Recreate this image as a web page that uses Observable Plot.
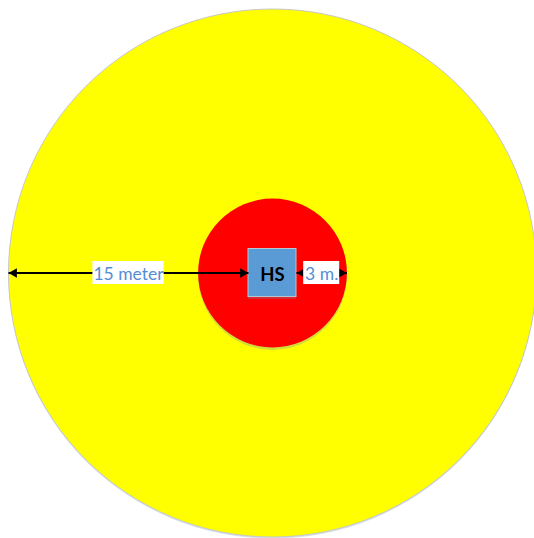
<!DOCTYPE html>
<html>
<head>
<meta charset="utf-8">
<script src="https://cdn.jsdelivr.net/npm/d3@7"></script>
<script src="https://cdn.jsdelivr.net/npm/@observablehq/plot@0.6"></script>
<style>
  html, body { margin: 0; padding: 0; background: #fff; }
  #chart svg { display: block; }
</style>
</head>
<body>
<div id="chart"></div>
<script>
// ---- data (meters) ----
const zoneNames = ["outer zone", "inner zone"];
const zoneRadii = [16.5, 4.65];         // radius from HS centre, meters (as drawn)
const zoneColors = ["#ffff00", "#ff0000"];
const hsLabel = "HS";
const hsHalfSide = 1.5;                 // half side of HS square, meters
const distanceLabels = ["15 meter", "3 m."];
const distanceZones = [0, 1];           // which zone edge each dimension reaches
const distanceSides = ["left", "right"];

// derived tables
const zones = zoneNames.map((name, i) => ({name, r: zoneRadii[i], color: zoneColors[i]}));
const dims = distanceLabels.map((label, i) => {
  const left = distanceSides[i] === "left";
  const edge = zoneRadii[distanceZones[i]];
  const a = left ? -edge : hsHalfSide;
  const b = left ? -hsHalfSide : edge;
  return {label, a, b, mid: (a + b) / 2, boxW: left ? 4.45 : 2.25};
});
const heads = dims.flatMap(d => [{x: d.a, dir: -1}, {x: d.b, dir: 1}]);
const hs = [{label: hsLabel, x1: -hsHalfSide, x2: hsHalfSide, y1: -hsHalfSide, y2: hsHalfSide}];

const W = 534, H = 538, PX = 16; // px per meter
const cx = 272, cy = 272.5;
const blue = "#558ed5";
const font = "Lato, 'Open Sans', sans-serif";

const plot = Plot.plot({
  width: W, height: H,
  margin: 0,
  x: {domain: [-cx / PX, (W - cx) / PX], axis: null},
  y: {domain: [-(H - cy) / PX, cy / PX], axis: null},
  r: {type: "linear", domain: [0, 1], range: [0, PX]},
  style: {background: "#fff"},
  marks: [
    // outer zone: soft shadow, fill with grey outline
    Plot.dot(zones.slice(0, 1), {x: 0, y: 0, r: "r", fill: "#d6e2f0", stroke: "none", dy: 1.5}),
    Plot.dot(zones.slice(0, 1), {x: 0, y: 0, r: "r", fill: "color", stroke: "#c8c8c8", strokeWidth: 1}),
    // inner zone: shadow then fill
    Plot.dot(zones.slice(1), {x: 0, y: 0, r: "r", fill: "#d4dc3c", stroke: "none", dy: 2.5}),
    Plot.dot(zones.slice(1), {x: 0, y: 0, r: "r", fill: "color", stroke: "none"}),
    // HS square shadow + square
    Plot.rect(hs, {x1: "x1", x2: "x2", y1: "y1", y2: "y2", fill: "#d42a32", dy: 2.5}),
    Plot.rect(hs, {x1: "x1", x2: "x2", y1: "y1", y2: "y2", fill: "#5b9bd5", stroke: "#b8c4d0", strokeWidth: 1}),
    Plot.text(hs, {x: 0, y: 0, text: "label", fill: "#000", fontWeight: "bold", fontSize: 18.5,
      fontFamily: font, dy: 2}),
    // dimension lines
    Plot.link(dims, {x1: "a", x2: "b", y1: 0, y2: 0, stroke: "#000", strokeWidth: 2}),
    Plot.dot(heads.filter(h => h.dir < 0), {x: "x", y: 0, symbol: "triangle", r: 3.6, fill: "#000", stroke: "none", rotate: -90, dx: 5.6}),
    Plot.dot(heads.filter(h => h.dir > 0), {x: "x", y: 0, symbol: "triangle", r: 3.6, fill: "#000", stroke: "none", rotate: 90, dx: -5.6}),
    // label boxes
    Plot.rect(dims, {x1: d => d.mid - d.boxW / 2, x2: d => d.mid + d.boxW / 2, y1: -0.72, y2: 0.72, fill: "#fff"}),
    Plot.text(dims, {x: "mid", y: 0, text: "label", fill: blue, fontSize: 17.5,
      fontFamily: font, dy: 1})
  ]
});
document.getElementById("chart").appendChild(plot);
</script>
</body>
</html>
